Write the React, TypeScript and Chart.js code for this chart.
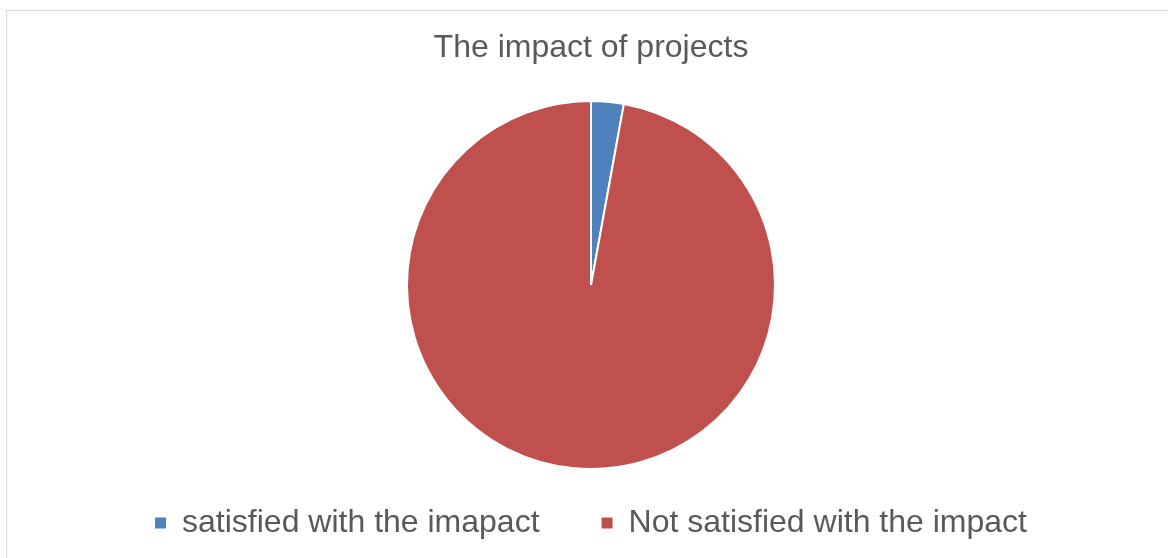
import React, { useEffect, useRef } from "react";
import { Chart, registerables } from "chart.js";

Chart.register(...registerables);

const labels: string[] = ["satisfied with the imapact", "Not satisfied with the impact"];
const values: number[] = [1, 34];
const sliceColors: string[] = ["#4F81BD", "#C0504D"];
const chartTitle = "The impact of projects";

const CANVAS_W = 1168;
const CANVAS_H = 538;

export default function App() {
  const ref = useRef<HTMLCanvasElement | null>(null);

  useEffect(() => {
    if (!ref.current) return;
    const chart = new Chart(ref.current, {
      type: "pie",
      data: {
        labels,
        datasets: [
          {
            data: values,
            backgroundColor: sliceColors,
            borderColor: "#FFFFFF",
            borderWidth: 2,
            radius: 184,
            clip: false,
          } as any,
        ],
      },
      options: {
        responsive: false,
        animation: false,
        layout: { padding: 0 },
        plugins: {
          title: {
            display: true,
            text: chartTitle,
            color: "#595959",
            font: { family: "'Liberation Sans', Arial, sans-serif", size: 32, weight: "normal" },
            padding: { top: 18, bottom: 57.6 },
          },
          legend: {
            display: true,
            position: "bottom",
            labels: {
              color: "#595959",
              boxWidth: 11,
              boxHeight: 11,
              padding: 62,
              font: { family: "'Liberation Sans', Arial, sans-serif", size: 32 },
              generateLabels: (c: any) => {
                const base = (Chart as any).overrides.pie.plugins.legend.labels.generateLabels(c);
                return base.map((l: any) => ({ ...l, lineWidth: 0, strokeStyle: l.fillStyle }));
              },
            },
          },
          tooltip: { enabled: false },
        },
      },
    });
    return () => chart.destroy();
  }, []);

  return (
    <div style={{ position: "fixed", left: 0, top: 0, width: 1168, height: 558, overflow: "hidden", background: "#fff" }}>
      <div
        style={{
          position: "absolute",
          left: 6,
          top: 10,
          width: 1200,
          height: 640,
          borderTop: "1px solid #D9D9D9",
          borderLeft: "1px solid #D9D9D9",
        }}
      >
        <canvas
          ref={ref}
          width={CANVAS_W}
          height={CANVAS_H}
          style={{ display: "block", width: CANVAS_W, height: CANVAS_H }}
        />
      </div>
    </div>
  );
}
